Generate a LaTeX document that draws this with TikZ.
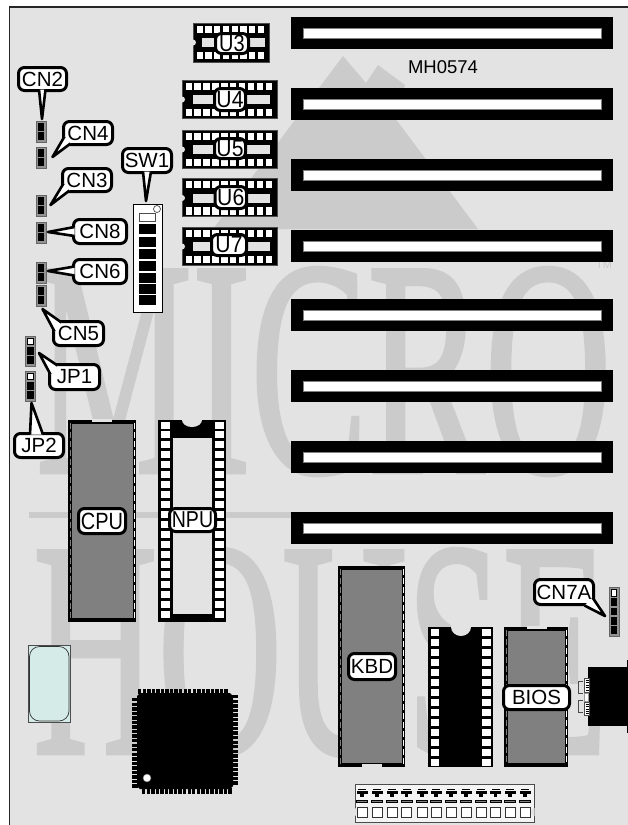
\documentclass[tikz,border=0pt]{standalone}
\usepackage{fontspec}
\usepackage{graphicx}
\setmainfont{Liberation Sans}
\newfontfamily\wmfont[FakeBold=1.5]{Liberation Serif}
\usetikzlibrary{calc}
\definecolor{bggrey}{HTML}{E3E3E3}
\definecolor{wmgrey}{HTML}{CBCBCB}
\definecolor{chipgrey}{HTML}{808080}
\definecolor{xtal}{HTML}{D5EBE7}
\tikzset{
  x=1pt,y=-1pt,
  lblbox/.style={draw=black,fill=white,line width=3pt,rounded corners=6pt,inner sep=0pt,outer sep=0pt,font=\fontsize{20.5}{22}\selectfont,text=black},
  tailst/.style={draw=black,fill=white,line width=2.6pt,line join=round},
  wmtext/.style={inner sep=0pt,anchor=base west,text=wmgrey,transform shape,font=\wmfont\fontsize{308}{308}\selectfont},
  slotwin/.style={fill=white,draw=gray,line width=0.5pt},
  pinw/.style={fill=white},
  hdrbody/.style={fill=gray!85,draw=black!60,line width=0.6pt},
}
% taller, slightly condensed label text: x-scale, size, text
\newcommand{\talltext}[3]{\fontsize{#2}{#2}\selectfont\scalebox{#1}[1]{#3}}
% #1 name, #2-#5 outer box x1 y1 x2 y2, #6 text
\newcommand{\lbl}[6]{%
  \pgfmathsetmacro\lw{#4-#2-3}\pgfmathsetmacro\lh{#5-#3-3}%
  \pgfmathsetmacro\lx{(#2+#4)/2}\pgfmathsetmacro\ly{(#3+#5)/2}%
  \node[lblbox,minimum width=\lw pt,minimum height=\lh pt] (#1) at (\lx,\ly) {#6};}
\newcommand{\slot}[1]{%
  \fill[black] (291,#1) rectangle (613,#1+31.5);
  \fill[slotwin] (303,#1+11) rectangle (601,#1+21);}
% x y w h n window-left window-right
\newcommand{\sock}[7]{%
  \fill[black] (#1,#2) rectangle (#1+#3,#2+#4);
  \draw[black!70,line width=0.5pt] (#1,#2) rectangle (#1+#3,#2+#4);
  \pgfmathsetmacro\pp{(#3-6)/#5}\pgfmathsetmacro\nn{#5-1}%
  \foreach \i in {0,...,\nn}{%
    \fill[pinw] (#1+3.5+\i*\pp,#2+2.5) rectangle (#1+1+\i*\pp+\pp,#2+9.5);
    \fill[pinw] (#1+3.5+\i*\pp,#2+28.5) rectangle (#1+1+\i*\pp+\pp,#2+36);}
  \fill[bggrey] (#1+#6,#2+15) rectangle (#1+#3-#7,#2+24);
  \fill[bggrey] (#1,#2+19.5) circle (3);}
% x y w h n nwhite
\newcommand{\hdr}[6]{%
  \fill[hdrbody] (#1,#2) rectangle (#1+#3,#2+#4);
  \pgfmathsetmacro\pp{(#4-2)/#5}\pgfmathsetmacro\nn{#5-1}%
  \foreach \i in {0,...,\nn}{%
    \ifnum\i<#6\relax
      \draw[fill=white,draw=black,line width=0.7pt] (#1+2.5,#2+2+\i*\pp) rectangle (#1+#3-2.5,#2+\i*\pp+\pp-0.5);
    \else
      \fill[black] (#1+2,#2+1.8+\i*\pp) rectangle (#1+#3-2,#2+\i*\pp+\pp);
    \fi}}
% Grey chip: x1 y1 x2 y2, notch centre x, notch y, notch colour
\newcommand{\chip}[7]{%
  \fill[black] (#1,#2) rectangle (#3,#4);
  \fill[chipgrey] (#1+4,#2+3.5) rectangle (#3-3.5,#4-4);
  \draw[white,line width=0.9pt,dash pattern=on 6pt off 3pt] (#3-2,#2+3) -- (#3-2,#4-3);
  \draw[chipgrey,line width=0.9pt,dash pattern=on 6pt off 3pt] (#1+2,#2+3) -- (#1+2,#4-3);
  \fill[#7] (#5-10,#6-0.7) rectangle (#5+10,#6+2.2);}
\begin{document}
\begin{tikzpicture}
\useasboundingbox (0,0) rectangle (628,825);
\fill[white] (0,0) rectangle (628,825);
\fill[bggrey] (9.5,7) rectangle (628,825);
\draw[black!85,line width=1.3pt] (9.5,825) -- (9.5,7) -- (628,7);

% --- watermark
\fill[wmgrey] (213,229) -- (343,56) -- (366,83) -- (378,65) -- (405,85) -- (395,118) -- (478,229) -- cycle;
\fill[wmgrey] (29,512) rectangle (600,518);
\begin{scope}[shift={(36,472)},xscale=.57]
  \node[wmtext] (wmmicro) at (0,0) {MICRO};
\end{scope}
\begin{scope}[shift={(33,753)},xscale=.56]
  \node[wmtext] (wmhouse) at (0,0) {HOUSE};
\end{scope}
\node[inner sep=0pt,text=wmgrey,font=\fontsize{11}{11}\selectfont] (wmtm) at (604,265) {TM};

% --- expansion slots
\foreach \yy in {17,88,159,230,299,370,441,512}{\slot{\yy}}
\node[inner sep=0pt,font=\fontsize{18.5}{20}\selectfont] (mh) at (443,67) {MH0574};

% --- small sockets
\sock{193}{23}{76}{39}{8}{9}{4}
\sock{182}{80}{95}{38}{10}{11}{7}
\sock{182}{130}{95}{38}{10}{11}{7}
\sock{182}{178.5}{95}{38}{10}{11}{7}
\sock{182}{227}{95}{38}{10}{11}{7}

% --- headers
\hdr{36}{121}{10}{21}{2}{0}
\hdr{36}{147}{10}{21}{2}{0}
\hdr{36}{195}{10}{21}{2}{0}
\hdr{36}{222}{10}{21}{2}{0}
\hdr{36}{262}{10}{21}{2}{0}
\hdr{36}{285}{10}{21}{2}{0}
\hdr{25}{336}{10.5}{30}{3}{1}
\hdr{25}{371}{10.5}{30}{3}{1}
\hdr{609}{587}{10}{49}{5}{1}

% --- SW1 DIP switch
\draw[fill=white,draw=black,line width=0.8pt] (133,204) rectangle (162,312);
\draw[fill=white,draw=black!70,line width=0.8pt] (139.5,213.5) rectangle (155.5,221);
\foreach \yy in {224,236.5,248.5,261,273,284,295}{\fill[black] (139,\yy) rectangle (156,\yy+10);}
\draw[fill=white,draw=black!70,line width=0.7pt] (157,209) circle (3.5);

% --- CPU / KBD / BIOS chips
\chip{68}{420}{136}{622}{102}{420}{bggrey}
\chip{338}{566}{405}{767}{372}{764.5}{bggrey}
\chip{504}{627}{568}{767}{537}{627}{bggrey}

% --- NPU socket
\fill[black] (158,420) rectangle (226,622);
\fill[bggrey] (173,438) rectangle (212,614);
\fill[bggrey] (192,420) ellipse (10 and 7);
\foreach \i in {0,...,19}{
  \fill[pinw] (161,421.5+\i*9.95) rectangle (170,428.5+\i*9.95);
  \fill[pinw] (215,421.5+\i*9.95) rectangle (224,428.5+\i*9.95);}

% --- black socket
\fill[black] (428,627) rectangle (493,767);
\fill[bggrey] (461,627) ellipse (10 and 9);
\foreach \i in {0,...,13}{
  \fill[pinw] (431,628.5+\i*10) rectangle (439,635.5+\i*10);
  \fill[pinw] (482,628.5+\i*10) rectangle (491,635.5+\i*10);}

% --- crystal
\draw[fill=xtal,draw=black!70,line width=0.7pt] (28,645) rectangle (70,722);
\draw[fill=xtal,draw=black!80,line width=0.7pt,rounded corners=10pt] (29.5,646.5) rectangle (69,721);

% --- QFP
\foreach \i in {0,...,19}{
  \fill[black] (138+\i*4.55,689) rectangle (141.4+\i*4.55,694);
  \fill[black] (142+\i*4.55,788) rectangle (145.4+\i*4.55,793.5);
  \fill[black] (132,698+\i*4.55) rectangle (138,701.4+\i*4.55);
  \fill[black] (232,695+\i*4.55) rectangle (237.5,698.4+\i*4.55);}
\fill[black] (140,693) -- (230,693) -- (233,696) -- (233,786) -- (230,789) -- (140,789) -- (137,786) -- (137,696) -- cycle;
\draw[fill=white,draw=black!60,line width=0.5pt] (147,778) circle (4);

% --- right-hand connector
\fill[black] (588,667) rectangle (628,726);
\fill[black] (627,660) rectangle (628,733);
\draw[black!70,line width=0.7pt] (583,681) -- (578,681) -- (578,693) -- (583,693);
\draw[black!70,line width=0.7pt] (583,700) -- (578,700) -- (578,712) -- (583,712);
\draw[fill=white,draw=black!70,line width=0.5pt] (584,678) rectangle (589,692);
\draw[fill=white,draw=black!70,line width=0.5pt] (584,702) rectangle (589,715);
\draw[fill=white,draw=black!40,line width=0.5pt] (584.5,693) rectangle (588,701);
\foreach \yy in {680,682.5,685,687.5,690,704,706.5,709,711.5,713.5}{\draw[black,line width=0.4pt] (585.5,\yy) -- (589,\yy);}

% --- bottom connector
\draw[fill=bggrey!40!white,draw=black!70,line width=0.8pt] (355,784) rectangle (534,822);
\fill[bggrey] (354.5,808) -- (357,809) -- (358,812) -- (357,815) -- (354.5,816) -- cycle;
\fill[bggrey] (534.5,808) -- (532,809) -- (531,812) -- (532,815) -- (534.5,816) -- cycle;
\foreach \xc in {362,377,392,406.5,422,436,451,466,481,495.5,510,525}{
  \fill[black] (\xc-4,788.5) rectangle (\xc+4,789.5);
  \fill[black] (\xc-5.5,790.5) rectangle (\xc+5.5,793.5);
  \fill[black] (\xc-1.8,793) rectangle (\xc+1.8,796.5);
  \draw[fill=gray,draw=black,line width=0.7pt] (\xc-5.5,800.5) rectangle (\xc+5.5,802.5);
  \draw[fill=white,draw=black!80,line width=0.7pt] (\xc-5,807) rectangle (\xc+5,817);}

% --- labels with call-out tails
\coordinate (cn2t) at (42,119);
\coordinate (cn4t) at (52.5,157);
\coordinate (cn3t) at (50.5,205);
\coordinate (cn8t) at (48,232);
\coordinate (cn6t) at (48,271);
\coordinate (cn5t) at (42.5,309);
\coordinate (sw1t) at (146,201);
\coordinate (jp1t) at (39,353);
\coordinate (jp2t) at (31.5,403);
\coordinate (cn7t) at (605,616);

\lbl{cn2}{17}{66}{68}{92}{CN2}
\draw[tailst] ($(cn2.south)+(-3.5,-1)$) -- (cn2t) -- ($(cn2.south)+(3,-1)$);
\lbl{cn4}{62}{120}{114}{146}{CN4}
\draw[tailst] ($(cn4.south west)+(1,-8)$) -- (cn4t) -- ($(cn4.south west)+(7,-1)$);
\lbl{cn3}{61}{167}{113}{193}{CN3}
\draw[tailst] ($(cn3.south west)+(1,-8)$) -- (cn3t) -- ($(cn3.south west)+(7,-1)$);
\lbl{cn8}{72}{218}{128}{245}{CN8}
\draw[tailst] ($(cn8.west)+(1,-4.5)$) -- (cn8t) -- ($(cn8.west)+(1,4.5)$);
\lbl{cn6}{72}{258}{128}{285}{CN6}
\draw[tailst] ($(cn6.west)+(1,-5)$) -- (cn6t) -- ($(cn6.west)+(1,4)$);
\lbl{cn5}{52}{320}{105}{347}{CN5}
\draw[tailst] ($(cn5.north west)+(8,1)$) -- (cn5t) -- ($(cn5.north west)+(1,10)$);
\lbl{sw1}{121}{147}{173}{174}{SW1}
\draw[tailst] ($(sw1.south)+(-4,-1)$) -- (sw1t) -- ($(sw1.south)+(4,-1)$);
\lbl{jp1}{48}{363}{101}{391}{JP1}
\draw[tailst] ($(jp1.north west)+(8,1)$) -- (jp1t) -- ($(jp1.north west)+(1,10)$);
\lbl{jp2}{13}{432}{65}{459}{JP2}
\draw[tailst] ($(jp2.north)+(-9,1)$) -- (jp2t) -- ($(jp2.north)+(4,1)$);
\lbl{cn7a}{533}{578}{595}{606}{CN7A}
\draw[tailst] ($(cn7a.south east)+(-9,1)$) -- (cn7t) -- ($(cn7a.south east)+(-1,-7)$);

\lbl{u3}{214}{32}{250}{55}{\talltext{.85}{23.5}{U3}}
\lbl{u4}{213}{87}{247}{112}{\talltext{.9}{23.5}{U4}}
\lbl{u5}{213}{137}{247}{160}{\talltext{.9}{23.5}{U5}}
\lbl{u6}{213.5}{185}{248}{210}{\talltext{.9}{23.5}{U6}}
\lbl{u7}{210}{233}{248}{257}{\talltext{.9}{23.5}{U7}}
\lbl{cpu}{77}{507}{127}{535}{\talltext{.85}{23.5}{CPU}}
\lbl{npu}{168}{507}{217}{533}{\talltext{.85}{23}{NPU}}
\lbl{kbd}{347}{652}{397}{681}{KBD}
\lbl{bios}{502}{684}{571}{711}{BIOS}
\end{tikzpicture}
\end{document}
